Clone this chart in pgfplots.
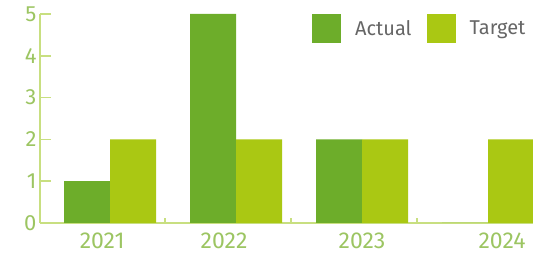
\documentclass[border=0pt]{standalone}
\usepackage{fontspec}
\setmainfont{Fira Sans}
\usepackage{pgfplots}
\pgfplotsset{compat=1.18}
\definecolor{actual}{HTML}{6DAD2A}
\definecolor{target}{HTML}{AAC813}
\definecolor{axl}{HTML}{C8DF80}
\definecolor{tlab}{HTML}{9CC562}
\definecolor{legt}{HTML}{666666}
\begin{document}
\begin{tikzpicture}
\begin{axis}[
  scale only axis,
  width=493pt, height=209pt,
  xmin=-0.556, xmax=3.357,
  ymin=0, ymax=5,
  axis x line*=bottom, axis y line*=left,
  axis line style={draw=axl, line width=1.5pt},
  ybar, bar width=46pt*0.9997,
  ytick={0,1,2,3,4,5},
  tick align=inside,
  major tick length=11pt,
  minor tick length=5pt,
  every tick/.style={draw=axl, line width=1.5pt},
  yticklabel style={font=\fontsize{22}{24}\selectfont, text=tlab, xshift=0pt},
  xtick={-0.063,0.905,2.0,3.111},
  xticklabels={2021,2022,2023,2024},
  xtick style={draw=none},
  minor xtick={0.4365,1.4365,2.4365},
  minor x tick style={draw=axl, line width=1.5pt},
  xticklabel style={font=\fontsize{23}{24}\selectfont, text=tlab, yshift=-6pt},
  /pgf/number format/assume math mode=true,
  legend style={draw=none, fill=none, at={(rel axis cs:0.552,1)}, anchor=north west,
    font=\fontsize{20}{22}\selectfont, text=legt, legend columns=2,
    /tikz/every even column/.style={column sep=13pt},
    /tikz/every odd column/.style={column sep=12pt},
    inner sep=0pt, outer sep=0pt},
  legend image code/.code={\fill[#1,draw=none] (0pt,-14.5pt) rectangle (29pt,14.5pt);},
  clip=false,
]
\addplot[fill=actual, draw=none, bar shift=-23pt] coordinates {(0,1) (1,5) (2,2) (3,0)};
\addplot[fill=target, draw=none, bar shift=23pt] coordinates {(0,2) (1,2) (2,2) (3,2)};
\legend{Actual,Target}
\coordinate (bl) at (rel axis cs:0,0);
\coordinate (tr) at (rel axis cs:1,1);
\end{axis}
\pgfresetboundingbox
\path[use as bounding box] ([xshift=-40pt,yshift=-30pt]bl) rectangle ([yshift=14pt]tr);
\end{tikzpicture}
\end{document}
